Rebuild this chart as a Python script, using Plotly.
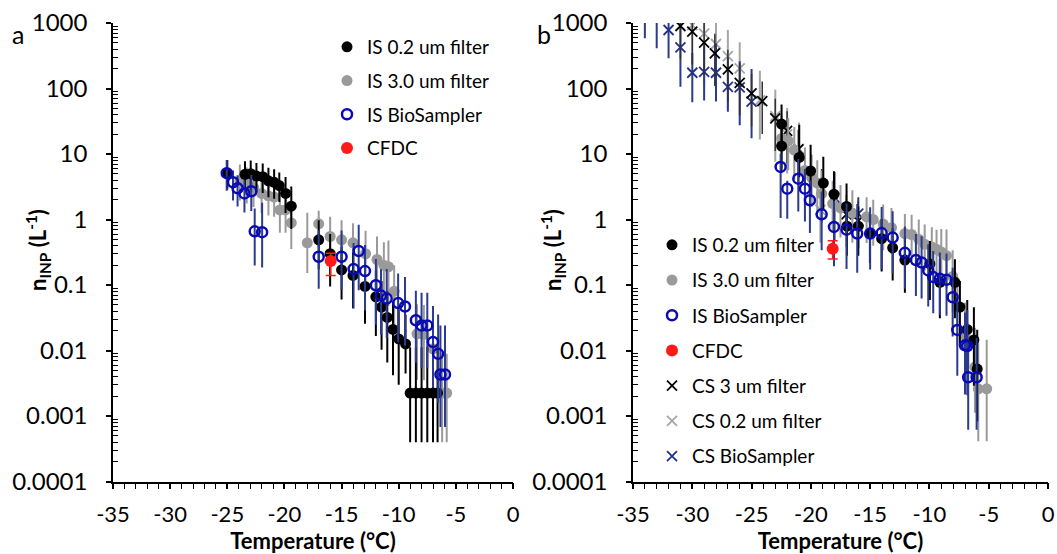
import plotly.graph_objects as go

# ---------------- Panel a data ----------------
a_is02_T = [-25.0, -23.45, -22.95, -22.45, -21.9, -21.4, -20.9, -20.45, -19.9, -19.4, -17.0, -16.0, -15.0, -14.0,
            -12.95, -12.0, -11.5, -11.0, -10.5, -10.0, -9.4, -9.0, -8.5, -8.0, -7.5, -7.0, -6.6]
a_is02_n = [5.1, 4.9, 5.0, 4.6, 4.5, 3.9, 3.7, 3.3, 2.5, 1.6, 0.49, 0.30, 0.17, 0.14, 0.095, 0.066, 0.046, 0.032,
            0.021, 0.015, 0.0126, 0.00224, 0.00224, 0.00224, 0.00224, 0.00224, 0.00224]
a_is02_up = [0.2, 0.2, 0.2, 0.2, 0.2, 0.2, 0.2, 0.2, 0.25, 0.3, 0.3, 0.3, 0.35, 0.35, 0.35, 0.4, 0.4, 0.4, 0.4,
             0.45, 0.45, 0.7, 0.7, 0.7, 0.7, 0.7, 0.7]
a_is02_dn = [0.25, 0.25, 0.25, 0.25, 0.25, 0.25, 0.25, 0.25, 0.3, 0.35, 0.45, 0.5, 0.45, 0.5, 0.57, 0.6, 0.65,
             0.69, 0.7, 0.7, 0.45, 0.75, 0.75, 0.75, 0.75, 0.75, 0.75]

a_is30_T = [-23.9, -23.3, -22.7, -22.0, -21.4, -20.9, -20.4, -19.9, -19.4, -18.0, -17.0, -16.0, -15.0, -14.0,
            -12.9, -11.9, -11.3, -10.9, -10.4, -8.4, -7.8, -7.0, -6.2, -5.8]
a_is30_n = [3.9, 3.5, 3.1, 2.5, 2.3, 2.2, 1.4, 1.4, 0.89, 0.44, 0.86, 0.55, 0.49, 0.44, 0.30, 0.245, 0.20, 0.19,
            0.08, 0.018, 0.0176, 0.0106, 0.00224, 0.00224]
a_is30_up = [0.25, 0.25, 0.25, 0.25, 0.25, 0.25, 0.25, 0.25, 0.25, 0.46, 0.2, 0.3, 0.3, 0.3, 0.35, 0.35, 0.35,
             0.4, 0.4, 0.45, 0.45, 0.5, 0.6, 0.6]
a_is30_dn = [0.3, 0.3, 0.3, 0.3, 0.3, 0.3, 0.35, 0.35, 0.4, 0.46, 0.37, 0.45, 0.45, 0.5, 0.5, 0.55, 0.6, 0.6,
             0.6, 0.7, 0.7, 0.75, 0.75, 0.75]

a_bio_T = [-25.05, -24.5, -24.1, -23.5, -22.9, -22.6, -21.95, -17.0, -15.0, -13.5, -13.95, -12.95, -12.0, -11.55,
           -11.05, -10.05, -9.45, -8.5, -8.0, -7.5, -7.0, -6.55, -6.35, -5.95]
a_bio_n = [5.1, 3.7, 3.0, 2.5, 2.7, 0.66, 0.64, 0.27, 0.27, 0.33, 0.175, 0.163, 0.099, 0.069, 0.062, 0.053, 0.047,
           0.029, 0.024, 0.024, 0.0135, 0.0089, 0.0043, 0.0043]
a_bio_up = [0.2, 0.18, 0.2, 0.2, 0.25, 0.35, 0.45, 0.4, 0.4, 0.4, 0.4, 0.4, 0.4, 0.4, 0.45, 0.45, 0.45, 0.45,
            0.5, 0.5, 0.55, 0.6, 0.75, 0.75]
a_bio_dn = [0.27, 0.28, 0.28, 0.29, 0.3, 0.52, 0.54, 0.49, 0.5, 0.6, 0.6, 0.6, 0.6, 0.6, 0.6, 0.6, 0.6, 0.65,
            0.65, 0.65, 0.7, 0.75, 0.8, 0.8]

a_cfdc_T = [-15.95]
a_cfdc_n = [0.232]
a_cfdc_up = [0.12]
a_cfdc_dn = [0.22]

# ---------------- Panel b data ----------------
b_is02_T = [-22.47, -22.47, -20.98, -20.02, -18.95, -18.05, -16.99, -16.96, -16.0, -15.02, -14.03, -13.1, -12.07,
            -9.96, -9.12, -7.85, -7.43, -6.81, -6.25, -5.97]
b_is02_n = [28.6, 13.2, 8.85, 5.5, 3.6, 2.43, 1.58, 0.79, 0.79, 0.61, 0.51, 0.37, 0.24, 0.21, 0.11, 0.11, 0.046,
            0.021, 0.0145, 0.0052]
b_is02_up = [0.3, 0.3, 0.5, 0.4, 0.4, 0.35, 0.35, 0.3, 0.3, 0.3, 0.3, 0.3, 0.35, 0.35, 0.35, 0.35, 0.4, 0.45,
             0.5, 0.6]
b_is02_dn = [0.4, 0.4, 0.3, 0.4, 0.4, 0.4, 0.4, 0.45, 0.45, 0.45, 0.5, 0.5, 0.5, 0.55, 0.55, 0.55, 0.6, 0.65,
             0.7, 0.8]

b_is30_T = [-22.47, -21.91, -21.4, -20.5, -19.93, -19.46, -19.09, -18.16, -17.5, -16.5, -15.3, -14.74, -13.9,
            -13.2, -12.07, -11.5, -10.9, -10.4, -9.8, -9.4, -9.0, -8.56, -8.04, -7.65, -7.0, -6.16, -5.88, -5.17]
b_is30_n = [17.3, 15.9, 11.5, 5.6, 4.37, 3.6, 2.49, 1.75, 1.5, 1.25, 1.1, 1.0, 0.85, 0.75, 0.61, 0.59, 0.50,
            0.42, 0.38, 0.35, 0.32, 0.28, 0.135, 0.047, 0.017, 0.0056, 0.0026, 0.0026]
b_is30_up = [0.35, 0.35, 0.35, 0.35, 0.35, 0.35, 0.35, 0.35, 0.35, 0.35, 0.3, 0.3, 0.3, 0.3, 0.3, 0.3, 0.3,
             0.3, 0.3, 0.3, 0.35, 0.4, 0.4, 0.45, 0.5, 0.6, 0.7, 0.75]
b_is30_dn = [0.45, 0.45, 0.45, 0.45, 0.45, 0.45, 0.45, 0.45, 0.45, 0.45, 0.4, 0.4, 0.4, 0.4, 0.4, 0.4, 0.4,
             0.4, 0.4, 0.4, 0.45, 0.5, 0.55, 0.6, 0.65, 0.7, 0.8, 0.8]

b_bio_T = [-22.55, -21.99, -21.06, -20.5, -20.08, -19.09, -18.05, -16.99, -16.09, -15.0, -14.03, -13.1, -12.07,
           -11.14, -10.66, -10.1, -9.68, -9.12, -8.56, -8.04, -7.65, -7.0, -6.81, -6.73, -6.02]
b_bio_n = [6.35, 2.96, 4.2, 2.96, 1.97, 1.2, 0.77, 0.70, 0.61, 0.61, 0.62, 0.53, 0.31, 0.24, 0.22, 0.167, 0.132,
           0.125, 0.12, 0.065, 0.0206, 0.012, 0.0117, 0.0039, 0.0039]
b_bio_up = [0.2, 0.12, 0.3, 0.3, 0.3, 0.35, 0.4, 0.4, 0.45, 0.4, 0.4, 0.4, 0.4, 0.4, 0.4, 0.4, 0.4, 0.4, 0.4,
            0.45, 0.5, 0.5, 0.55, 0.6, 0.6]
b_bio_dn = [0.78, 0.46, 0.5, 0.5, 0.5, 0.55, 0.6, 0.6, 0.6, 0.55, 0.55, 0.55, 0.55, 0.55, 0.55, 0.55, 0.55,
            0.55, 0.55, 0.6, 0.7, 0.75, 0.75, 0.8, 0.8]

b_cfdc_T = [-18.16]
b_cfdc_n = [0.359]
b_cfdc_up = [0.12]
b_cfdc_dn = [0.16]

b_cs3_T = [-31.0, -30.0, -29.0, -28.1, -27.0, -26.0, -25.0, -24.1, -23.0, -22.0, -21.06, -19.09, -17.0, -16.0]
b_cs3_n = [900, 736, 500, 344, 196, 122, 84, 64, 35, 22.5, 11.8, 2.96, 1.2, 0.95]
b_cs3_up = [0.3, 0.3, 0.3, 0.3, 0.3, 0.3, 0.3, 0.3, 0.3, 0.3, 0.3, 0.3, 0.3, 0.3]
b_cs3_dn = [0.5, 0.5, 0.5, 0.5, 0.5, 0.5, 0.5, 0.5, 0.5, 0.5, 0.5, 0.5, 0.5, 0.5]

b_cs02_T = [-30.0, -29.0, -28.0, -27.0, -26.0, -24.3, -23.0, -22.0, -21.0, -19.2]
b_cs02_n = [930, 690, 478, 312, 203, 66, 38, 20, 12, 1.4]
b_cs02_up = [0.3, 0.35, 0.35, 0.4, 0.4, 0.45, 0.4, 0.4, 0.4, 0.3]
b_cs02_dn = [0.6, 0.8, 0.85, 0.8, 0.7, 0.6, 0.7, 0.6, 0.6, 0.5]

b_csbio_T = [-34.0, -33.0, -32.0, -31.0, -30.0, -29.0, -28.0, -27.0, -26.0, -25.0, -18.0, -16.0]
b_csbio_n = [1400, 1300, 782, 425, 174, 180, 174, 106, 104, 63, 2.16, 1.23]
b_csbio_up = [0.3, 0.3, 0.4, 0.4, 0.3, 0.4, 0.45, 0.45, 0.4, 0.5, 0.39, 0.25]
b_csbio_dn = [0.38, 0.5, 0.43, 0.6, 0.45, 0.44, 0.44, 0.38, 0.58, 0.56, 0.65, 0.53]

x_ticks = [-35, -30, -25, -20, -15, -10, -5, 0]
y_ticks = [0.0001, 0.001, 0.01, 0.1, 1, 10, 100, 1000]
y_ticktext = ["0.0001", "0.001", "0.01", "0.1", "1", "10", "100", "1000"]

# ---------------- styles ----------------
FONT = "Lato"
BLACK = "#000000"
GRAY = "#9a9a9a"
BLUE = "#0a0ab4"
BLUE_BAR = "#2b3b8f"
NAVY = "#23308a"
RED = "#ff1a1a"

W, H = 1057, 554


def errs(n, up, dn):
    plus = [v * (10 ** u - 1) for v, u in zip(n, up)]
    minus = [v * (1 - 10 ** (-d)) for v, d in zip(n, dn)]
    return plus, minus


fig = go.Figure()


def add(T, n, up, dn, name, xa, ya, legend, rank, marker, barcolor, bw=2.0, cap=0):
    plus, minus = errs(n, up, dn)
    fig.add_trace(go.Scatter(
        x=T, y=n, mode="markers", name=name, xaxis=xa, yaxis=ya,
        legend=legend, legendrank=rank, legendgroup=legend + name,
        marker=marker,
        error_y=dict(type="data", symmetric=False, array=plus, arrayminus=minus,
                     color=barcolor, thickness=bw, width=cap),
        showlegend=True,
    ))


dot_k = dict(symbol="circle", size=11, color=BLACK, line=dict(width=0))
dot_g = dict(symbol="circle", size=11, color=GRAY, line=dict(width=0))
ring_b = dict(symbol="circle-open", size=10, color=BLUE, line=dict(width=2.5, color=BLUE))
dot_r = dict(symbol="circle", size=12, color=RED, line=dict(width=0))
x_k = dict(symbol="x-thin", size=10, color=BLACK, line=dict(width=1.8, color=BLACK))
x_g = dict(symbol="x-thin", size=10, color="#a6a6a6", line=dict(width=1.8, color="#a6a6a6"))
x_b = dict(symbol="x-thin", size=10, color=NAVY, line=dict(width=1.8, color=NAVY))

# panel a
add(a_is30_T, a_is30_n, a_is30_up, a_is30_dn, "IS 3.0 um filter", "x", "y", "legend", 2, dot_g, GRAY)
add(a_is02_T, a_is02_n, a_is02_up, a_is02_dn, "IS 0.2 um filter", "x", "y", "legend", 1, dot_k, BLACK)
add(a_bio_T, a_bio_n, a_bio_up, a_bio_dn, "IS BioSampler", "x", "y", "legend", 3, ring_b, BLUE_BAR)
add(a_cfdc_T, a_cfdc_n, a_cfdc_up, a_cfdc_dn, "CFDC", "x", "y", "legend", 4, dot_r, RED, 1.5, 5)

# panel b
add(b_cs02_T, b_cs02_n, b_cs02_up, b_cs02_dn, "CS 0.2 um filter", "x2", "y2", "legend2", 6, x_g, "#a6a6a6")
add(b_csbio_T, b_csbio_n, b_csbio_up, b_csbio_dn, "CS BioSampler", "x2", "y2", "legend2", 7, x_b, BLUE_BAR)
add(b_cs3_T, b_cs3_n, b_cs3_up, b_cs3_dn, "CS 3 um filter", "x2", "y2", "legend2", 5, x_k, "#333333", 1.5)
add(b_is30_T, b_is30_n, b_is30_up, b_is30_dn, "IS 3.0 um filter", "x2", "y2", "legend2", 2, dot_g, GRAY)
add(b_is02_T, b_is02_n, b_is02_up, b_is02_dn, "IS 0.2 um filter", "x2", "y2", "legend2", 1, dot_k, BLACK)
add(b_bio_T, b_bio_n, b_bio_up, b_bio_dn, "IS BioSampler", "x2", "y2", "legend2", 3, ring_b, BLUE_BAR)
add(b_cfdc_T, b_cfdc_n, b_cfdc_up, b_cfdc_dn, "CFDC", "x2", "y2", "legend2", 4, dot_r, RED, 1.5, 5)

minor_y = [m * 10 ** e for e in range(-4, 3) for m in range(2, 10)]

xcommon = dict(range=[-35, 0], tickmode="array", tickvals=x_ticks, ticktext=[str(v) for v in x_ticks],
               ticks="outside", ticklen=6, tickwidth=1.5, tickcolor=BLACK, automargin=False,
               showline=True, linecolor=BLACK, linewidth=1.5, showgrid=False, zeroline=False,
               minor=dict(dtick=1, tick0=-35, ticks="outside", ticklen=6, tickwidth=1.2, tickcolor=BLACK,
                          showgrid=False),
               tickfont=dict(family=FONT, size=22, color=BLACK), ticklabelstandoff=6,
               title=dict(text="<b>Temperature (°C)</b>", font=dict(family=FONT, size=22, color=BLACK),
                          standoff=2))
ycommon = dict(type="log", range=[-4, 3], tickmode="array", tickvals=y_ticks, ticktext=y_ticktext,
               ticks="outside", ticklen=5, tickwidth=1.5, tickcolor=BLACK, automargin=False,
               showline=True, linecolor=BLACK, linewidth=1.5, showgrid=False, zeroline=False,
               minor=dict(tickmode="array", tickvals=minor_y, ticks="inside", ticklen=5, tickwidth=1.2,
                          tickcolor=BLACK, showgrid=False),
               tickfont=dict(family=FONT, size=24, color=BLACK), ticklabelstandoff=14)

ytitle = "<b>n<sub>INP</sub> (L<sup>-1</sup>)</b>"
ydom = [(H - 481.5) / H, (H - 23) / H]
fig.update_layout(
    width=W, height=H, margin=dict(l=0, r=0, t=0, b=0, autoexpand=False),
    paper_bgcolor="white", plot_bgcolor="white",
    font=dict(family=FONT, color=BLACK),
    xaxis=dict(domain=[113 / W, 513 / W], anchor="y", **xcommon),
    yaxis=dict(domain=ydom, anchor="x", **ycommon),
    xaxis2=dict(domain=[633 / W, 1048 / W], anchor="y2", **xcommon),
    yaxis2=dict(domain=ydom, anchor="x2", **ycommon),
    legend=dict(x=327 / W, y=1 - 28 / H, xanchor="left", yanchor="top", bgcolor="rgba(0,0,0,0)",
                font=dict(family=FONT, size=19, color=BLACK), traceorder="grouped", tracegroupgap=6,
                itemclick=False),
    legend2=dict(x=652 / W, y=1 - 226 / H, xanchor="left", yanchor="top", bgcolor="rgba(0,0,0,0)",
                 font=dict(family=FONT, size=19, color=BLACK), traceorder="grouped", tracegroupgap=7.5,
                 itemclick=False),
    annotations=[
        dict(text="a", x=10 / W, y=1 - 34 / H, xref="paper", yref="paper", xanchor="left", yanchor="middle",
             showarrow=False, font=dict(family=FONT, size=25, color=BLACK)),
        dict(text="b", x=535 / W, y=1 - 34 / H, xref="paper", yref="paper", xanchor="left", yanchor="middle",
             showarrow=False, font=dict(family=FONT, size=25, color=BLACK)),
        dict(text=ytitle, x=38 / W, y=1 - 250 / H, xref="paper", yref="paper", xanchor="center",
             yanchor="middle", textangle=-90, showarrow=False, font=dict(family=FONT, size=22, color=BLACK)),
        dict(text=ytitle, x=553 / W, y=1 - 250 / H, xref="paper", yref="paper", xanchor="center",
             yanchor="middle", textangle=-90, showarrow=False, font=dict(family=FONT, size=22, color=BLACK)),
    ],
)

fig.write_html("out.html", config={"displayModeBar": False},
               post_script="document.body.style.margin='0px';document.body.style.padding='0px';")
